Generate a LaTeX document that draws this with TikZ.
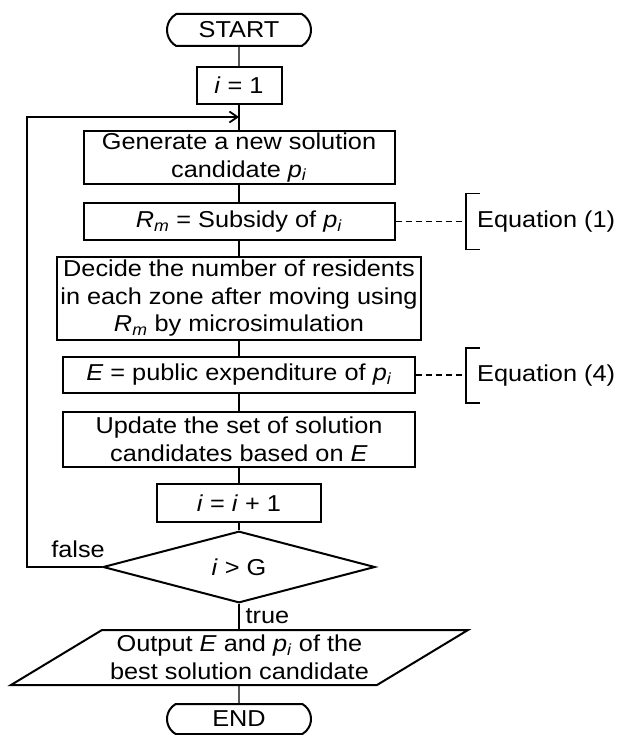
\documentclass[tikz,border=0pt]{standalone}
\usepackage{fontspec}
\setmainfont{Liberation Sans}[FakeStretch=1.1]
\usepackage{tikz}
\usetikzlibrary{arrows.meta, calc, shapes.geometric, shapes.misc}

\newcommand{\vsub}[2]{\textit{#1}\textsubscript{\textit{#2}}}

\begin{document}
\begin{tikzpicture}[x=1pt, y=-1pt,
  txt/.style={font=\fontsize{23}{27.5}\selectfont, align=center, inner sep=0pt},
  box/.style={txt, draw, line width=2pt, rectangle},
  term/.style={txt, draw, line width=2pt, rounded rectangle, rounded rectangle arc length=120, minimum width=144, minimum height=32},
  dec/.style={txt, draw, line width=2pt, diamond},
  flow/.style={line width=1.4pt},
  link/.style={line width=1.3pt, dash pattern=on 6pt off 4pt},
  brace/.style={line width=1.5pt}]
% Canvas
\useasboundingbox (0,0) rectangle (617,735);

% Main column
\node[term] (start) at (239,30) {START};
\node[box, minimum width=85, minimum height=37] (init) at (239,85.5) {\textit{i} = 1};
\node[box, minimum width=311, minimum height=53] (gen) at (239,157.5) {Generate a new solution\\candidate \vsub{p}{i}};
\node[box, minimum width=311, minimum height=37] (sub) at (239,221.5) {\vsub{R}{m} = Subsidy of \vsub{p}{i}};
\node[box, minimum width=364, minimum height=83] (decide) at (239,298.5) {Decide the number of residents\\in each zone after moving using\\\vsub{R}{m} by microsimulation};
\node[box, minimum width=352, minimum height=36] (cost) at (239,375) {\textit{E} = public expenditure of \vsub{p}{i}};
\node[box, minimum width=352, minimum height=55] (update) at (239,439.5) {Update the set of solution\\candidates based on \textit{E}};
\node[box, minimum width=164, minimum height=38] (incr) at (239,503) {\textit{i} = \textit{i} + 1};
\node[dec, minimum width=272, minimum height=55] (test) at (239,567) {\textit{i} > G};
\node[txt] (out) at (239.5,657.5) {Output \textit{E} and \vsub{p}{i} of the\\best solution candidate};
\node[term, minimum height=30] (end) at (239,719) {END};

% Output box
\draw[line width=2pt] ($(out)+(-137.5,-27.5)$) -- ($(out)+(228.5,-27.5)$) -- ($(out)+(137.5,27.5)$) -- ($(out)+(-228.5,27.5)$) -- cycle;
\coordinate (outtop) at ($(out)+(-0.5,-27.5)$);
\coordinate (outbot) at ($(out)+(-0.5,27.5)$);

% Connectors
\foreach \a/\b in {start/init, init/gen, gen/sub, sub/decide, decide/cost, cost/update, update/incr, incr/test}
  \draw[flow] (\a) -- (\b);
\draw[flow] (test) -- (outtop) node[txt, midway, right, xshift=6pt, yshift=1pt]{true};
\draw[flow] (outbot) -- (end);

% Loop back
\coordinate (join) at (239,117);
\coordinate (corner) at (27,117);
\draw[line width=1.8pt, -{Straight Barb[length=8pt, width=11pt]}] (test.west) -| (corner) -- (join);
\node[txt, anchor=south east] (no) at ($(test.west)+(3,-9)$) {false};

% Equation notes
\coordinate (br1) at (466,221.5);
\coordinate (br4) at (466,375);
\node[txt, anchor=west] (eq1) at (477,222) {Equation (1)};
\node[txt, anchor=west] (eq4) at (477,375.5) {Equation (4)};
\draw[link] (sub.east) -- (br1);
\draw[link] (cost.east) -- (br4);
\draw[brace] ($(br1)+(14,-28)$) -- ++(-14,0) -- ++(0,56) -- ++(14,0);
\draw[brace] ($(br4)+(14,-27)$) -- ++(-14,0) -- ++(0,55) -- ++(14,0);

\end{tikzpicture}
\end{document}
